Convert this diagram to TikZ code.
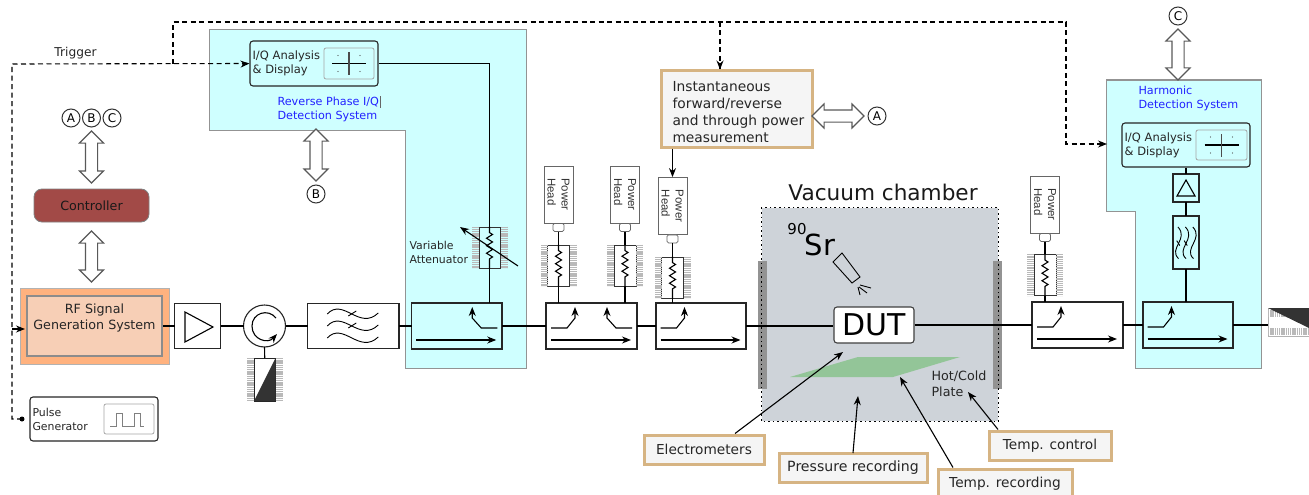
\documentclass[tikz,border=0pt]{standalone}
\usepackage{fontspec}
\setmainfont{DejaVu Sans}
\newfontfamily\headfont{Liberation Sans}
\usetikzlibrary{positioning}
\usetikzlibrary{calc}
\usetikzlibrary{arrows.meta}
\usetikzlibrary{shapes.arrows}
\usetikzlibrary{decorations.pathmorphing}

\definecolor{regioncyan}{HTML}{CFFFFF}
\definecolor{chambergray}{HTML}{CED3D9}
\definecolor{tanline}{HTML}{D6B483}
\definecolor{paperwhite}{HTML}{F5F5F5}
\definecolor{ctrlred}{HTML}{A24A47}
\definecolor{rforange}{HTML}{FFB27F}
\definecolor{rfpeach}{HTML}{F7CFB6}
\definecolor{platemint}{HTML}{93C598}
\definecolor{labelblue}{HTML}{2222FF}

\newcommand{\fsz}[2]{\fontsize{#1}{#2}\selectfont}

\tikzset{
  block/.style={draw=black!85,fill=white,line width=1.1pt,inner sep=0pt,outer sep=0pt},
  region/.style={draw=gray!85,fill=regioncyan,line width=1pt},
  fin/.style={draw=gray!55,line width=7pt,dash pattern=on 1.3pt off .9pt},
  zig/.style={decorate,decoration={zigzag,amplitude=3pt,segment length=7.5pt,pre length=6pt,post length=6pt}},
  trig/.style={line width=1.1pt,dash pattern=on 5pt off 3.5pt},
  bigarrow/.style={double arrow,draw=black!65,fill=white,line width=1.1pt,minimum height=#1,
    double arrow head extend=6pt,inner xsep=0pt,inner ysep=5.5pt},
  tag/.style={circle,draw=black!80,line width=1pt,minimum size=18pt,inner sep=0pt,font=\fsz{12}{14}},
  callout/.style={draw=tanline,fill=paperwhite,line width=3pt,inner sep=0pt,font=\fsz{13.7}{17},text=black!85},
  iqbox/.style={draw=black!85,rounded corners=3pt,line width=1.1pt,inner xsep=2.5pt,inner ysep=0pt,
    minimum height=#1,text width=123pt,align=left,font=\fsz{11.5}{14},text=black!85},
  scopebox/.style={draw=gray!70,rounded corners=2pt,line width=.8pt,inner sep=0pt},
  powerhead/.style={draw=black!60,fill=white,rotate=-90,line width=.8pt,inner sep=0pt,minimum width=57pt,
    minimum height=29pt,align=left,font=\headfont\fsz{11.4}{14},text=black!80},
  plug/.style={draw=black!60,fill=white,line width=.8pt,rounded corners=1.5pt,inner sep=0pt,minimum width=11pt,minimum height=8pt},
  resbox/.style={draw=black!80,fill=white,line width=.8pt,inner sep=0pt,minimum width=22pt,minimum height=41pt},
  textlabel/.style={anchor=west,align=left,inner sep=0pt,text=black!85},
  bluelabel/.style={anchor=west,align=left,inner sep=0pt,text=labelblue,font=\fsz{11.2}{14}},
  pics/coupmain/.style={code={\draw[->,line width=1.1pt] (-40.5,14) -- (39.5,14);}},
  pics/coupfwd/.style={code={\draw[->,line width=1.1pt] (-40.5,2) -- (-24.5,2) -- (-16.5,-8) -- (-16.5,-19);}},
  pics/coupback/.style={code={\draw[->,line width=1.1pt] (40.5,2) -- (24.5,2) -- (15.5,-8) -- (15.5,-19);}},
  pics/wavefilter/.style={code={
    \foreach \w in {-12,0,12}
      \draw[line width=.9pt] (-26,\w) .. controls (-10,\w-17) and (6,\w+17) .. (25,\w-1);
    \foreach \w in {-12,0}
      \draw[line width=.9pt] (-5,\w+2) -- (3,\w-3);
  }},
  pics/iqcross/.style={code={
    \draw[line width=1.1pt] (-17,0) -- (17,0);
    \draw[line width=1.1pt,draw=black!70] (0,-11) -- (0,12);
    \foreach \a/\b in {-11/-8,11/-8,-11/8,11/8}
      \fill[black!70] (\a,\b) circle (.6pt);
  }}
}

\begin{document}
\begin{tikzpicture}[x=1pt,y=-1pt,line width=1.1pt,>={Stealth[length=9pt,width=7pt]}]
    \useasboundingbox (0,0) rectangle (1309,495);

    % Cyan regions
    \draw[region] (209,30) -- (526,30) -- (526,368) -- (405,368) -- (405,130) -- (209,130) -- cycle;
    \draw[region] (1106,80) -- (1261,80) -- (1261,368) -- (1135,368) -- (1135,211) -- (1106,211) -- cycle;

    % Chamber
    \node[fill=chambergray,minimum width=236pt,minimum height=213pt,inner sep=0pt] (chamber) at (880,314.5) {};
    \node[fill=gray!85,minimum width=9pt,minimum height=128pt,inner sep=0pt] (flangeL) at (762.5,325) {};
    \node[fill=gray!85,minimum width=9pt,minimum height=128pt,inner sep=0pt] (flangeR) at (997.5,325) {};
    \draw[line width=1.6pt,dash pattern=on 1.6pt off 3pt] (chamber.north west) rectangle (chamber.south east);
    \node[font=\fsz{21.6}{24},text=black!90] (chambertitle) at (883,192) {Vacuum chamber};
    \fill[platemint] (790,377) -- (858,357) -- (960,357) -- (893,377) -- cycle;
    \node[font=\fsz{15}{18},inner sep=0pt] (srmass) at (797,229) {90};
    \node[font=\fsz{29}{32},inner sep=0pt] (srname) at (820,245) {Sr};
    \draw[line width=.9pt] (833,262) -- (842,253) -- (860,277) -- (852,283) -- cycle;
    \draw[line width=.9pt] (860,285) -- (871,288);
    \draw[line width=.9pt] (859,287) -- (867,293);
    \draw[line width=.9pt] (858,287) -- (860,295);
    \node[textlabel,font=\fsz{12.7}{16}] (platetext) at (931,384) {Hot/Cold\\Plate};

    % Source side
    \node[tag] (tagA) at (71,118) {A};
    \node[tag] (tagB) at (91.5,118) {B};
    \node[tag] (tagC) at (112,118) {C};
    \node[bigarrow=52pt,rotate=90] (arrowtop) at (91.5,157) {};
    \node[draw=gray,fill=ctrlred,rounded corners=8pt,line width=.8pt,minimum width=115pt,minimum height=33pt,
      inner sep=0pt,font=\fsz{12.7}{15},text=black!90] (controller) at (91.5,205.5) {Controller};
    \node[bigarrow=51pt,rotate=90] (arrowlow) at (91.5,256.5) {};
    \node[draw=gray!60,fill=rforange,minimum width=149pt,minimum height=76pt,inner sep=0pt,line width=.8pt] (rfouter) at (94.5,326) {};
    \node[draw=black!45,fill=rfpeach,minimum width=135pt,minimum height=60pt,inner sep=0pt,line width=1.6pt] (rfinner) at (94.5,326) {};
    \node[align=center,font=\fsz{12.7}{16},inner sep=0pt,text=black!85] (rftext) at (94.5,318) {RF Signal\\Generation System};

    \node[block,minimum width=46pt,minimum height=45pt] (amp) at (197.5,326) {};
    \draw (185,312) -- (185,342) -- (213,327) -- cycle;
    \node[block,circle,minimum size=42pt] (circ) at (264.5,326) {};
    \draw[->] (276,318) .. controls (268,308) and (252,313) .. (252,326) .. controls (252,340) and (268,344) .. (277,334);
    \node[block,minimum width=21.5pt,minimum height=43pt,line width=.6pt] (loadA) at (264.75,379.5) {};
    \draw[fin] ([xshift=-14.5pt]loadA.north) -- ([xshift=-14.5pt]loadA.south);
    \draw[fin] ([xshift=14.5pt]loadA.north) -- ([xshift=14.5pt]loadA.south);
    \fill[black!80] (loadA.south west) -- (loadA.north east) -- (loadA.south east) -- cycle;
    \node[block,minimum width=91.5pt,minimum height=45pt] (filter) at (353.25,326) {};
    \pic at (filter.center) {wavefilter};

    % Couplers
    \node[block,fill=regioncyan,minimum width=90.5pt,minimum height=46pt] (coup1) at (456.75,326) {};
    \node[block,minimum width=91pt,minimum height=46pt] (coup2) at (591.5,326) {};
    \node[block,minimum width=90pt,minimum height=46pt] (coup3) at (701,326) {};
    \node[block,minimum width=91pt,minimum height=46pt] (coup4) at (1077.5,325) {};
    \node[block,fill=regioncyan,minimum width=90pt,minimum height=46pt] (coup5) at (1188,325) {};
    \foreach \c in {coup1,coup2,coup3,coup4,coup5}
      \pic at (\c.center) {coupmain};
    \foreach \c in {coup2,coup3,coup4,coup5}
      \pic at (\c.center) {coupfwd};
    \foreach \c in {coup1,coup2}
      \pic at (\c.center) {coupback};

    % Power heads
    \foreach \n/\hx/\hy/\ry/\cp in {a/558.5/194.5/265.5/coup2,b/625/194.5/265.5/coup2,c/672.5/206/277.5/coup3,d/1045/204.5/275/coup4} {
      \node[powerhead] (head\n) at (\hx,\hy) {Power\\Head};
      \node[plug,anchor=north] (plug\n) at (\hx,\hy+28.5) {};
      \node[resbox] (res\n) at (\hx,\ry) {};
      \draw[fin] ([xshift=-14.5pt]res\n.north) -- ([xshift=-14.5pt]res\n.south);
      \draw[fin] ([xshift=14.5pt]res\n.north) -- ([xshift=14.5pt]res\n.south);
      \draw (plug\n.south) -- (res\n.north);
      \draw[zig] (res\n.north) -- (res\n.south);
      \draw (res\n.south) -- (res\n.south |- \cp.north);
    }

    % Reverse phase detection
    \node[iqbox=45pt] (iqrev) at (314,63.5) {I/Q Analysis\\\& Display};
    \node[scopebox,minimum width=50pt,minimum height=31pt] (scoperev) at (349,63.5) {};
    \pic at (scoperev.center) {iqcross};
    \node[bluelabel] (revtext) at (277,109) {Reverse Phase I/Q\\Detection System};
    \draw[line width=.6pt,draw=black!60] (380,96) -- (380,108);
    \node[bigarrow=52pt,rotate=90] (arrowrev) at (316,155) {};
    \node[tag] (tagrev) at (316,194) {B};
    \node[resbox,minimum width=21pt,fill=regioncyan] (atten) at (489.5,247.5) {};
    \draw[fin] ([xshift=-14.5pt]atten.north) -- ([xshift=-14.5pt]atten.south);
    \draw[fin] ([xshift=14.5pt]atten.north) -- ([xshift=14.5pt]atten.south);
    \draw[zig] (atten.north) -- (atten.south);
    \draw[line width=1.6pt] (atten.south) -- (atten.south |- coup1.north);
    \draw (atten.north) -- (atten.north |- iqrev.east) -- (iqrev.east);
    \coordinate (attvarA) at (518,266);
    \coordinate (attvarB) at (460,227);
    \draw[->] (attvarA) -- (attvarB);
    \node[textlabel,font=\fsz{10.9}{14}] (attentext) at (409,252) {Variable\\Attenuator};

    % Harmonic detection
    \node[iqbox=44pt] (iqhar) at (1186,145) {I/Q Analysis\\\& Display};
    \node[scopebox,minimum width=51pt,minimum height=30pt] (scopehar) at (1221.5,145) {};
    \pic at (scopehar.center) {iqcross};
    \node[bluelabel] (hartext) at (1138,98) {Harmonic\\Detection System};
    \node[block,fill=regioncyan,minimum width=26pt,minimum height=28pt] (amphar) at (1186,188) {};
    \draw (1177,196) -- (1195,196) -- (1186,180) -- cycle;
    \node[block,fill=regioncyan,line width=1.4pt,minimum width=26pt,minimum height=53pt] (filterhar) at (1186,242.5) {};
    \pic[rotate=90,scale=.62] at (filterhar.center) {wavefilter};
    \draw (iqhar.south -| amphar.north) -- (amphar.north);
    \draw (amphar.south) -- (filterhar.north);
    \draw[line width=1.8pt] (filterhar.south) -- (filterhar.south |- coup5.north);
    \node[bigarrow=51pt,rotate=90] (arrowhar) at (1178,54.5) {};
    \node[tag] (taghar) at (1178,16) {C};

    % Power measurement box
    \node[callout,minimum width=151pt,minimum height=76pt] (powerbox) at (736.5,109) {};
    \node[textlabel,font=\fsz{13.8}{17}] (powertext) at (672,112) {Instantaneous\\forward/reverse\\and through power\\measurement};
    \node[bigarrow=52pt] (arrowpow) at (838,116) {};
    \node[tag] (tagpow) at (877,116) {A};
    \draw[->] (powerbox.south -| headc) -- (headc.west);

    % Main line
    \draw (rfinner.east) -- (amp.west);
    \draw (amp.east) -- (circ.west);
    \draw (circ.east) -- (filter.west);
    \draw (filter.east) -- (coup1.west);
    \draw (coup1.east) -- (coup2.west);
    \draw (coup2.east) -- (coup3.west);
    \draw (circ.south) -- (loadA.north);

    % Device under test
    \node[draw=black!75,fill=white,rounded corners=3pt,line width=1.1pt,minimum width=80pt,minimum height=36pt,
      inner sep=0pt,font=\fsz{30}{32}] (dut) at (874,325) {DUT};
    \draw[line width=1.8pt] (coup3.east) -- (dut.west |- coup3.east);
    \draw[line width=1.5pt] (dut.east) -- (coup4.west);
    \draw (coup4.east) -- (coup5.west);

    % Terminating load
    \node[block,line width=.6pt,minimum width=42pt,minimum height=28pt,draw=gray!60] (loadB) at (1289,322) {};
    \draw[fin] ([yshift=-5pt]loadB.north west) -- ([yshift=-5pt]loadB.north east);
    \draw[fin] ([yshift=5pt]loadB.south west) -- ([yshift=5pt]loadB.south east);
    \fill[black!80] (1268,308) -- (1309,308) -- (1309,328) -- cycle;
    \draw[line width=1.8pt] (coup5.east) -- (loadB.west |- coup5.east);

    % Pulse generator and trigger
    \node[iqbox=44pt,fill=white,font=\fsz{10.9}{14}] (pulse) at (94,419) {Pulse\\Generator};
    \node[scopebox,minimum width=50pt,minimum height=30pt] (scopepulse) at (129,419) {};
    \draw[line width=.8pt,draw=gray] (110,426) -- (116,426) -- (116,413) -- (122,413) -- (122,426) -- (134,426) -- (134,413) -- (140.5,413) -- (140.5,426) -- (144,426);
    \coordinate (pulseout) at (22,419);
    \coordinate (trigcorner) at (12,64);
    \coordinate (trigtap) at (12,329);
    \coordinate (rfin) at (25,329);
    \coordinate (upA) at (173,64);
    \coordinate (upB) at (173,22);
    \coordinate (powtap) at (720,22);
    \coordinate (upC) at (1066,22);
    \coordinate (upD) at (1066,144);
    \coordinate (harin) at (1107,144);
    \fill (pulseout) circle (2.5pt);
    \draw[trig] (pulseout) -- (12,419) -- (trigcorner) -- (iqrev.west);
    \draw[->,line width=1.1pt] (242,64) -- (iqrev.west);
    \draw[trig] (upA) -- (upB) -- (upC) -- (upD) -- (1098,144);
    \draw[->,line width=1.1pt] (1098,144) -- (harin);
    \draw[trig,line width=1.6pt] (powtap) -- (powtap |- powerbox.north);
    \draw[->,line width=1.1pt] (720,63) -- (powtap |- powerbox.north);
    \draw[->] (trigtap) -- (rfin);
    \node[inner sep=0pt,font=\fsz{12.2}{14},text=black!85] (trigtext) at (75.5,53) {Trigger};

    % Callouts
    \node[callout,minimum width=120pt,minimum height=29pt] (electro) at (704,449.5) {Electrometers};
    \node[callout,minimum width=148pt,minimum height=29pt,font=\fsz{14.1}{17}] (pressure) at (853,467.5) {Pressure recording};
    \node[callout,minimum width=134pt,minimum height=30pt] (temprec) at (1005,484) {Temp. recording};
    \node[callout,minimum width=122pt,minimum height=29pt] (tempctl) at (1050,445.5) {Temp. control};
    \coordinate (electroend) at (843,352);
    \coordinate (pressureend) at (858,396);
    \coordinate (temprecend) at (900,377);
    \coordinate (tempctlend) at (968,392);
    \draw[->] (electro.north -| 735,0) -- (electroend);
    \draw[->] (pressure) ++(0,-14.5) -- (pressureend);
    \draw[->] (temprec.north -| 953,0) -- (temprecend);
    \draw[->] (tempctl.north -| 998,0) -- (tempctlend);
\end{tikzpicture}
\end{document}
